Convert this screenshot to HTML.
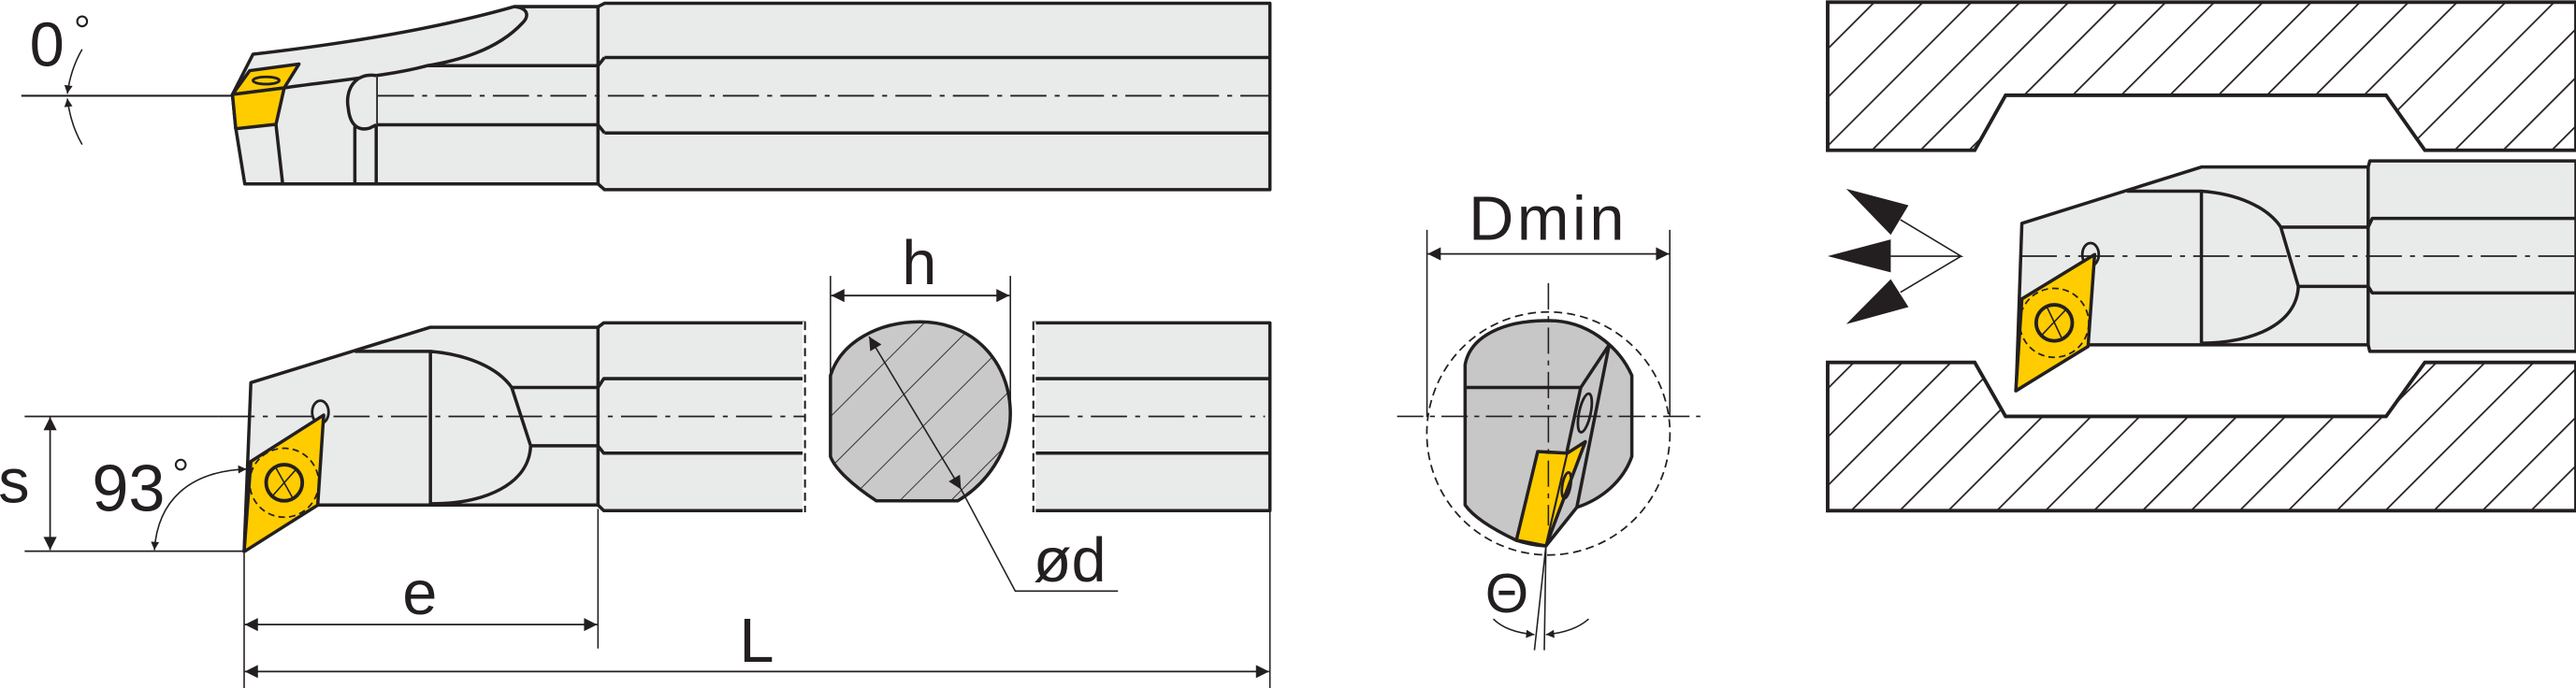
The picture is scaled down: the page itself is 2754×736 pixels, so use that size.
<!DOCTYPE html>
<html><head><meta charset="utf-8"><style>html,body{margin:0;padding:0;background:#fff}svg{display:block}</style></head>
<body>
<svg width="2754" height="736" viewBox="0 0 1568 419" xmlns="http://www.w3.org/2000/svg" font-family="Liberation Sans, sans-serif">
<defs>
<pattern id="h1" width="20.9" height="10" patternUnits="userSpaceOnUse" patternTransform="translate(1112,0) rotate(45)"><line x1="0" y1="0" x2="0" y2="10" stroke="#231f20" stroke-width="2"/></pattern>
<pattern id="h2" width="22" height="10" patternUnits="userSpaceOnUse" patternTransform="translate(540,250) rotate(45)"><line x1="0" y1="0" x2="0" y2="10" stroke="#231f20" stroke-width="1"/></pattern>
<marker id="a" viewBox="0 0 10 10" refX="10" refY="5" markerWidth="10" markerHeight="8" markerUnits="userSpaceOnUse" orient="auto-start-reverse"><path d="M0,0L10,5L0,10z" fill="#231f20"/></marker>
<marker id="s" viewBox="0 0 10 10" refX="10" refY="5" markerWidth="6" markerHeight="5" markerUnits="userSpaceOnUse" orient="auto-start-reverse"><path d="M0,0L10,5L0,10z" fill="#231f20"/></marker>
</defs>
<g stroke="#231f20" stroke-width="2" fill="#e9ebea" stroke-linejoin="round">
<!-- TOP VIEW -->
<path d="M364,4 L368,2 L773,2 L773,115.5 L368,115.5 L364,112 L149,112 L143.5,78 L141.5,57.5 L154,33 Q250,22 313,4 Z"/>
<path d="M368,35 H773 M364,40 L368,35 M368,81 H773 M364,76 L368,81 M364,4 V112" fill="none"/>
<path d="M313,4 C322,5 322,10 318,14 C305,28 285,36 260,40 L364,40 M260,40 C245,44 235,45 229,46 C210,49 190,51 173,53.5" fill="none"/>
<path d="M229,76 H364 M216,77 V112 M229,46 V112" fill="none"/>
<path d="M229,46 C215,44 210,56 212,66 C213,76 218,80 225,78 L229,76"/>
<path d="M168,76 L172,111.5" fill="none"/>
<path d="M152,43 L182,39 L173,53.5 L141.5,57.5 Z" fill="#ffcc00"/>
<path d="M141.5,57.5 L173,53.5 L168,75.7 L143.5,78.4 Z" fill="#ffcc00"/>
<ellipse cx="162" cy="49" rx="8" ry="2.2" fill="none" stroke-width="1.6"/>
</g>
<line x1="230" y1="58.3" x2="773" y2="58.3" stroke="#231f20" stroke-width="1" stroke-dasharray="22 5 3 5"/>
<line x1="13" y1="58.3" x2="141" y2="58.3" stroke="#231f20" stroke-width="1.2"/>
<path d="M50,30 Q43,42 41,57" fill="none" stroke="#231f20" stroke-width="0.9" marker-end="url(#s)"/>
<path d="M50,88 Q43,76 41,60" fill="none" stroke="#231f20" stroke-width="0.9" marker-end="url(#s)"/>
<text x="18" y="40" font-size="38" fill="#231f20">0</text>
<circle cx="50" cy="13" r="3" fill="none" stroke="#231f20" stroke-width="1.2"/>

<!-- BOTTOM VIEW -->
<g stroke="#231f20" stroke-width="2" fill="#e9ebea" stroke-linejoin="round">
<path d="M367.5,196.6 H490 V311 H367.5 L364,307.6 H193.4 L148.6,335.7 L152.7,233 L262,199.3 H364 Z"/>
<path d="M629,196.6 H773 V311 H629 Z"/>
<path d="M364,199.3 L367.5,196.6 M364,199.3 V307.6 M311.5,236 H364 L367.5,230.6 H490 M323,271.5 H364 L367.5,276 H490 M629,230.6 H773 M629,276 H773" fill="none"/>
<path d="M216,214 H262 C285,216 303,224 311.5,236 L323,271.5 C322,295 295,307 262,306.8 M262,214 V307" fill="none"/>
<line x1="490" y1="196" x2="490" y2="312" stroke="#fff" stroke-width="3"/>
<line x1="629" y1="196" x2="629" y2="312" stroke="#fff" stroke-width="3"/>
<line x1="490" y1="196" x2="490" y2="312" stroke-dasharray="5 3" stroke-width="1.2"/>
<line x1="629" y1="196" x2="629" y2="312" stroke-dasharray="5 3" stroke-width="1.2"/>
<ellipse cx="195" cy="251" rx="5" ry="7" fill="#e9ebea" stroke-width="1.6"/>
<path d="M148.6,336 L193.4,307.6 L197,252.8 L152.7,281 Z" fill="#ffcc00"/>
<circle cx="173" cy="294" r="21" fill="none" stroke-width="1" stroke-dasharray="4 2.5"/>
<circle cx="173" cy="294" r="11" fill="none" stroke-width="2.2"/>
<path d="M165,303 L181,285 M168,285 L178,303" fill="none" stroke-width="0.9"/>
</g>
<line x1="15" y1="253.6" x2="133" y2="253.6" stroke="#231f20" stroke-width="1"/>
<line x1="133" y1="253.6" x2="490" y2="253.6" stroke="#231f20" stroke-width="1" stroke-dasharray="22 5 3 5"/>
<line x1="629" y1="253.6" x2="770" y2="253.6" stroke="#231f20" stroke-width="1" stroke-dasharray="22 5 3 5"/>
<line x1="15" y1="335.7" x2="148.6" y2="335.7" stroke="#231f20" stroke-width="1"/>
<line x1="30.5" y1="254" x2="30.5" y2="335" stroke="#231f20" stroke-width="1" marker-start="url(#a)" marker-end="url(#a)"/>
<text x="-1" y="306" font-size="38" fill="#231f20">s</text>
<text x="56" y="311" font-size="40" fill="#231f20">93</text>
<circle cx="110" cy="283" r="3" fill="none" stroke="#231f20" stroke-width="1.2"/>
<path d="M94,335 C96,305 115,287 150,285.7" fill="none" stroke="#231f20" stroke-width="0.9" marker-start="url(#s)" marker-end="url(#s)"/>
<!-- cross section -->
<path d="M505.5,228.7 C512,208 535,196 560,196 C592,196 615,220 615,252 C615,275 600,295 583,305 H533.4 C518,295 508,285 505.5,278 Z" fill="#c8c9c8" stroke="none"/>
<path d="M505.5,228.7 C512,208 535,196 560,196 C592,196 615,220 615,252 C615,275 600,295 583,305 H533.4 C518,295 508,285 505.5,278 Z" fill="url(#h2)" stroke="#231f20" stroke-width="2"/>
<line x1="505.5" y1="168" x2="505.5" y2="230" stroke="#231f20" stroke-width="0.9"/>
<line x1="615" y1="168" x2="615" y2="252" stroke="#231f20" stroke-width="0.9"/>
<line x1="506" y1="180" x2="614.5" y2="180" stroke="#231f20" stroke-width="1" marker-start="url(#a)" marker-end="url(#a)"/>
<text x="549" y="173" font-size="38" fill="#231f20">h</text>
<line x1="529" y1="205" x2="585" y2="298" stroke="#231f20" stroke-width="0.9" marker-start="url(#a)" marker-end="url(#a)"/>
<path d="M585,298 L618,360 H680.5" fill="none" stroke="#231f20" stroke-width="0.9"/>
<text x="629" y="354" font-size="38" fill="#231f20">ød</text>
<line x1="364" y1="310" x2="364" y2="395" stroke="#231f20" stroke-width="0.9"/>
<line x1="148.6" y1="337" x2="148.6" y2="419" stroke="#231f20" stroke-width="0.9"/>
<line x1="773" y1="312" x2="773" y2="419" stroke="#231f20" stroke-width="0.9"/>
<line x1="149" y1="380.4" x2="363.5" y2="380.4" stroke="#231f20" stroke-width="1" marker-start="url(#a)" marker-end="url(#a)"/>
<line x1="149" y1="409" x2="772.5" y2="409" stroke="#231f20" stroke-width="1" marker-start="url(#a)" marker-end="url(#a)"/>
<text x="245" y="374" font-size="38" fill="#231f20">e</text>
<text x="450" y="403" font-size="38" fill="#231f20">L</text>

<!-- DMIN VIEW -->
<line x1="868.6" y1="140" x2="868.6" y2="254" stroke="#231f20" stroke-width="0.9"/>
<line x1="1016.4" y1="140" x2="1016.4" y2="254" stroke="#231f20" stroke-width="0.9"/>
<line x1="869" y1="154.6" x2="1016" y2="154.6" stroke="#231f20" stroke-width="1" marker-start="url(#a)" marker-end="url(#a)"/>
<text x="894" y="146" font-size="38" fill="#231f20" letter-spacing="2">Dmin</text>
<circle cx="942.5" cy="264" r="74" fill="none" stroke="#231f20" stroke-width="1" stroke-dasharray="5 3"/>
<g stroke="#231f20" stroke-width="2" stroke-linejoin="round">
<path d="M891.8,222 C895,205 915,195 942.5,195.3 C965,195 985,210 993.3,228.7 V278 C988,293 975,304 959.8,309 L941,332.5 C932,332 926,330 922.8,329 C908,322 897,315 891.8,307.6 Z" fill="#c6c7c6"/>
<path d="M891.8,236 H962.2 L979.5,210 M962.2,236 L953.8,275 M979.5,210 L959.8,309" fill="none"/>
<ellipse cx="964.7" cy="251.5" rx="3.5" ry="12" transform="rotate(12 964.7 251.5)" fill="none" stroke-width="1.6"/>
<path d="M936,275 L954,276 L965,269 L941,332.5 L923,329 Z" fill="#ffcc00"/>
<path d="M954,276 L941,332" fill="none" stroke-width="1.2"/>
<ellipse cx="953.5" cy="295.6" rx="2.5" ry="8" transform="rotate(10 953.5 295.6)" fill="none" stroke-width="1.6"/>
</g>
<line x1="850.4" y1="253.6" x2="1035" y2="253.6" stroke="#231f20" stroke-width="0.9" stroke-dasharray="16 4 3 4"/>
<line x1="942.5" y1="172.5" x2="942.5" y2="320" stroke="#231f20" stroke-width="0.9" stroke-dasharray="16 4 3 4"/>
<path d="M941,332.5 L934,396 M941,332.5 L940,396" stroke="#231f20" stroke-width="0.9"/>
<text x="904" y="373" font-size="34" fill="#231f20">Θ</text>
<path d="M909,377 Q917,385 934,386.5" fill="none" stroke="#231f20" stroke-width="0.9" marker-end="url(#s)"/>
<path d="M967,377 Q958,385 941,386.5" fill="none" stroke="#231f20" stroke-width="0.9" marker-end="url(#s)"/>

<!-- RIGHT VIEW -->
<g stroke="#231f20" stroke-width="2.2" stroke-linejoin="miter">
<path d="M1112.5,1.3 H1568 V91.5 H1476 L1452.4,58 H1220.8 L1202,91.5 H1112.5 Z" fill="url(#h1)"/>
<path d="M1112.5,220.7 H1202 L1220.8,253.6 H1452.4 L1476,220.7 H1568 V311 H1112.5 Z" fill="url(#h1)"/>
</g>
<g stroke="#231f20" stroke-width="2" fill="#e9ebea" stroke-linejoin="round">
<path d="M1442.5,98 L1441.5,101.7 L1442.5,98 H1568 V214 H1442.5 L1441.5,210 H1271 L1227.2,238 L1230.7,136 L1340,101.7 H1441.5 Z"/>
<path d="M1441.5,101.7 V210 M1388.3,138.3 H1441.5 L1444,133 H1568 M1399,174.4 H1441.5 L1444,178.4 H1568" fill="none"/>
<path d="M1294.7,116.4 H1340 C1362,118 1380,126 1388.3,138.3 L1399,174.4 C1398,198 1370,209 1340,209 M1340,116.4 V209" fill="none"/>
<ellipse cx="1272.5" cy="155" rx="5" ry="7" stroke-width="1.6"/>
<path d="M1227,238 L1271,211 L1275,155 L1230.7,182 Z" fill="#ffcc00"/>
<circle cx="1250.4" cy="196.6" r="21" fill="none" stroke-width="1" stroke-dasharray="4 2.5"/>
<circle cx="1250.4" cy="196.6" r="11" fill="none" stroke-width="2.2"/>
<path d="M1242,205 L1258,188 M1246,187 L1255,206" fill="none" stroke-width="0.9"/>
</g>
<line x1="1230" y1="156" x2="1568" y2="156" stroke="#231f20" stroke-width="1" stroke-dasharray="22 5 3 5"/>
<g fill="#231f20">
<path d="M1123.8,115 L1161.7,125 L1150.9,143 Z"/>
<path d="M1112.5,156 L1150.9,145.8 L1150.9,165.9 Z"/>
<path d="M1123.8,197.4 L1150.9,170 L1161.7,187 Z"/>
</g>
<path d="M1150.9,156 H1193.7 L1156.8,133.8 M1193.7,156 L1156.8,178" fill="none" stroke="#231f20" stroke-width="0.9"/>
</svg>
</body></html>
